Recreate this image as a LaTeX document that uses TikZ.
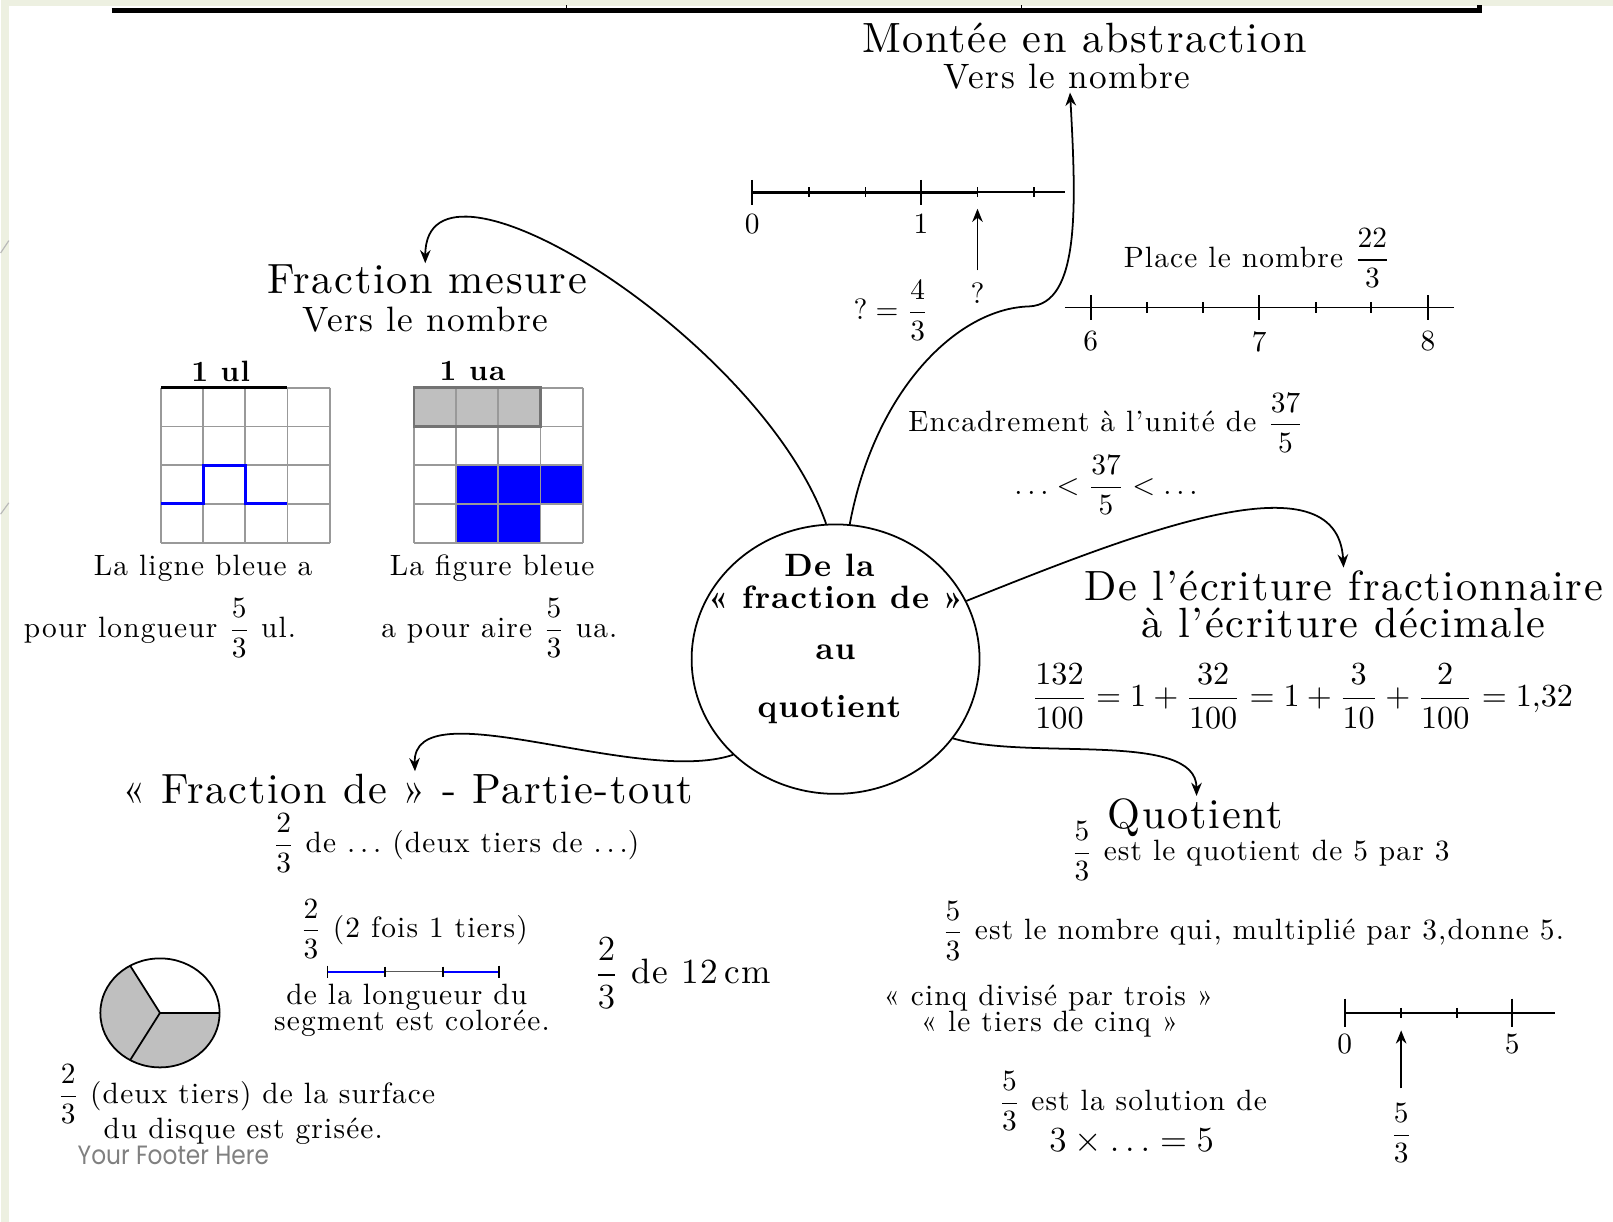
\documentclass[tikz,border=0pt]{standalone}
\usepackage{amsmath}
\usepackage{graphicx}
\usepackage{fontspec}
\setmainfont{lmroman10-regular.otf}[BoldFont=lmroman10-bold.otf,LetterSpace=4]
\newfontfamily\footerfont{Poppins}
\usepackage{tikz}
\usetikzlibrary{arrows.meta,shapes.geometric}
\definecolor{slidebg}{RGB}{237,240,225}
\definecolor{pureblue}{RGB}{0,0,255}
\definecolor{cellgray}{RGB}{191,191,191}

\begin{document}
\begin{tikzpicture}[
    x=0.35pt,y=-0.35pt,
    >={Stealth[length=4.5pt,width=3.6pt]},
    link/.style={->,semithick},
    pointer/.style={->,semithick},
    title/.style={font=\Large,inner sep=1pt},
    subtitle/.style={font=\large,inner sep=1pt},
    note/.style={inner sep=1pt},
    bignote/.style={font=\large,inner sep=1pt},
    centretext/.style={font=\fontsize{11}{13}\selectfont\bfseries,inner sep=1pt},
    unitlabel/.style={font=\bfseries,inner sep=1pt},
    numberline/.style={semithick},
    gridline/.style={draw=gray!80,semithick},
    footer/.style={font=\footerfont\small,text=gray,inner sep=0pt}
  ]
    % Slide background and frame.
    \fill[white] (0,0) rectangle (1568,1188);
    \fill[slidebg] (0,0) rectangle (8,1188);
    \fill[slidebg] (0,0) rectangle (1568,6);
    \draw[gray!55] (0,246) -- (8,234);
    \draw[gray!55] (0,500) -- (8,489);
    \useasboundingbox (0,0) rectangle (1568,1188);
    \draw[line width=1.6pt] (108,10) -- (1438,10) -- (1438,5);
    \draw[thin] (550,10) -- (550,5) (993,10) -- (993,5);

    % Centre of the map.
    \node[draw,ellipse,semithick,minimum width=98pt,minimum height=91.7pt] (centre) at (812,641) {};
    \node[centretext] (centre1) at (806,550) {De la};
    \node[centretext] (centre2) at (812,581) {« fraction de »};
    \node[centretext] (centre3) at (812,634) {au};
    \node[centretext] (centre4) at (806,690) {quotient};

    % Fraction mesure: unit length and unit area.
    \node[title] (mesure) at (415,272) {Fraction mesure};
    \node[subtitle] (mesuresub) at (413,311) {Vers le nombre};
    \coordinate (mesuretip) at (413,256);
    \draw[link] (centre.94) .. controls (740,330) and (413,125) .. (mesuretip);

    \node[unitlabel] (ul) at (214,361) {1 ul};
    \foreach \k in {0,...,4}
      \draw[gridline] (156+41*\k,377) -- (156+41*\k,528) (156,377+37.75*\k) -- (320,377+37.75*\k);
    \draw[very thick] (156,377) -- (279,377);
    \draw[pureblue,line width=1.1pt] (156,490) -- (197,490) -- (197,452.5) -- (238,452.5) -- (238,490) -- (279,490);
    \node[note] (ligne1) at (197,553) {La ligne bleue a};
    \node[note] (ligne2) at (155,611) {pour longueur $\dfrac{5}{3}$ ul.};

    \node[unitlabel] (ua) at (459,361) {1 ua};
    \fill[cellgray] (402,377) rectangle (525,414.75);
    \fill[pureblue] (443,452.5) rectangle (566,490.25);
    \fill[pureblue] (443,490.25) rectangle (525,528);
    \foreach \k in {0,...,4}
      \draw[gridline] (402+41*\k,377) -- (402+41*\k,528) (402,377+37.75*\k) -- (566,377+37.75*\k);
    \draw[gray!90!black,thick] (402,377) rectangle (525,414.75);
    \node[note] (figure1) at (478,553) {La figure bleue};
    \node[note] (figure2) at (485,611) {a pour aire $\dfrac{5}{3}$ ua.};

    % Montee en abstraction: number lines.
    \node[title] (montee) at (1054,37) {Montée en abstraction};
    \node[subtitle] (monteesub) at (1037,75) {Vers le nombre};
    \coordinate (monteetip) at (1040,90);
    \draw[link] (centre.84) .. controls (850,380) and (930,300) .. (1000,298)
      .. controls (1050,296) and (1046,200) .. (monteetip);

    \draw[very thick] (731,187) -- (950,187);
    \draw[numberline] (950,187) -- (1035,187);
    \draw[numberline] (731,175) -- (731,199) (895,175) -- (895,199)
      (786,182) -- (786,192) (841,182) -- (841,192) (950,182) -- (950,192) (1005,182) -- (1005,192);
    \node[note] (zero) at (731,218) {0};
    \node[note] (one) at (895,218) {1};
    \coordinate (fourthirds) at (950,203);
    \node[note] (qmark) at (950,285) {?};
    \draw[pointer] ([yshift=3pt]qmark.north) -- (fourthirds);
    \node[note] (qanswer) at (866,302) {$? = \dfrac{4}{3}$};

    \node[note] (place) at (1222,251) {Place le nombre $\dfrac{22}{3}$};
    \draw[numberline] (1035,299) -- (1413,299);
    \draw[numberline] (1060,287) -- (1060,311) (1224,287) -- (1224,311) (1388,287) -- (1388,311)
      (1115,294) -- (1115,304) (1169,294) -- (1169,304) (1279,294) -- (1279,304) (1333,294) -- (1333,304);
    \node[note] (six) at (1060,332) {6};
    \node[note] (seven) at (1224,332) {7};
    \node[note] (eight) at (1388,332) {8};

    \node[note] (encadrement) at (1075,411) {Encadrement à l'unité de $\dfrac{37}{5}$};
    \node[note] (bracket) at (1075,472) {$\ldots < \dfrac{37}{5} < \ldots$};

    % Ecriture decimale.
    \node[title,align=center,font=\fontsize{14.4}{12.5}\selectfont] (ecriture) at (1306,588)
      {De l'écriture fractionnaire\\à l'écriture décimale};
    \draw[link] (centre.24) .. controls (1100,520) and (1300,440) .. (ecriture.north);
    \node[inner sep=1pt,font=\fontsize{11.3}{13.6}\selectfont] (decomposition) at (1266,677)
      {$\dfrac{132}{100} = 1 + \dfrac{32}{100} = 1 + \dfrac{3}{10} + \dfrac{2}{100} = 1{,}32$};

    % Quotient.
    \node[title] (quotient) at (1162,795) {Quotient};
    \coordinate (quotienttip) at (1163,774);
    \draw[link] (centre.-34) .. controls (1000,740) and (1163,710) .. (quotienttip);
    \node[note] (quotient1) at (1225,828) {$\dfrac{5}{3}$ est le quotient de 5 par 3};
    \node[note] (quotient2) at (1218,905) {$\dfrac{5}{3}$ est le nombre qui, multiplié par 3,donne 5.};
    \node[note] (cinq1) at (1019,971) {« cinq divisé par trois »};
    \node[note] (cinq2) at (1020,996) {« le tiers de cinq »};
    \node[note] (solution) at (1101,1071) {$\dfrac{5}{3}$ est la solution de};
    \node[bignote] (equation) at (1100,1110) {$3 \times \ldots = 5$};

    \draw[numberline] (1307,985) -- (1512,985);
    \draw[numberline] (1307,971) -- (1307,999) (1470,971) -- (1470,999)
      (1362,980) -- (1362,990) (1416,980) -- (1416,990);
    \node[note] (zeroq) at (1307,1015) {0};
    \node[note] (fiveq) at (1470,1015) {5};
    \coordinate (fivethirds) at (1362,1002);
    \node[note] (fivethirdslabel) at (1362,1102) {$\dfrac{5}{3}$};
    \draw[pointer] ([yshift=4pt]fivethirdslabel.north) -- (fivethirds);

    % Fraction de: part and whole.
    \node[title] (partie) at (396,767) {« Fraction de » - Partie-tout};
    \coordinate (partietip) at (403,750);
    \draw[link] (centre.223) .. controls (620,765) and (400,668) .. (partietip);
    \node[note] (deuxtiers) at (443,820) {$\dfrac{2}{3}$ de $\ldots$ (deux tiers de $\ldots$)};

    \node[note] (foistiers) at (402,903) {$\dfrac{2}{3}$ (2 fois 1 tiers)};
    \draw[pureblue,thick] (318,945) -- (374,945) (430,945) -- (485,945);
    \draw[gray!70!black] (374,945) -- (430,945);
    \draw[semithick] (318,939) -- (318,951) (374,940) -- (374,950) (430,940) -- (430,950) (485,939) -- (485,951);
    \node[note] (segment1) at (395,970) {de la longueur du};
    \node[note] (segment2) at (400,995) {segment est colorée.};

    \node[bignote] (douze) at (663,946) {$\dfrac{2}{3}$ de 12\,cm};

    \fill[cellgray] (155,985) -- (126,939.1) arc[start angle=120,end angle=360,x radius=20.3pt,y radius=18.55pt] -- cycle;
    \draw[semithick] (155,985) ellipse[x radius=20.3pt,y radius=18.55pt];
    \draw[semithick] (126,939.1) -- (155,985) -- (213,985) (155,985) -- (126,1030.9);
    \node[note] (disque1) at (239,1064) {$\dfrac{2}{3}$ (deux tiers) de la surface};
    \node[note] (disque2) at (236,1100) {du disque est grisée.};

    \node[footer] (footer) at (168,1124) {\scalebox{0.88}[1]{Your Footer Here}};
  \end{tikzpicture}
\end{document}
